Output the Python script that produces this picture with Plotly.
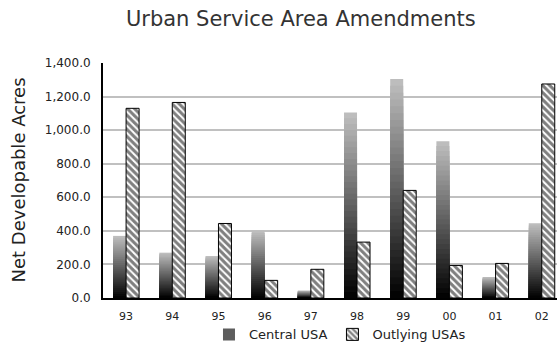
import plotly.graph_objects as go

years = ["93", "94", "95", "96", "97", "98", "99", "00", "01", "02"]
central = [370, 270, 250, 400, 44, 1105, 1305, 934, 125, 446]
outlying = [1130, 1165, 444, 105, 171, 333, 641, 194, 206, 1275]

N_SEG = 32  # layered bars approximating the vertical gradient of "Central USA"

fig = go.Figure()

# Draw from full height (lightest) down to shortest (darkest), each layer on top of the previous
for k in range(N_SEG, 0, -1):
    frac = (k - 0.5) / N_SEG
    g = int(round(192 * frac))
    color = f"rgb({g},{g},{g})"
    fig.add_trace(go.Bar(
        x=years,
        y=[v * k / N_SEG for v in central],
        offsetgroup="central",
        marker=dict(color=color, line=dict(width=0)),
        name="Central USA",
        legendgroup="central",
        showlegend=(k == N_SEG // 2),
        hoverinfo="skip",
    ))

fig.add_trace(go.Bar(
    x=years,
    y=outlying,
    offsetgroup="outlying",
    name="Outlying USAs",
    marker=dict(
        color="white",
        line=dict(color="black", width=1),
        pattern=dict(shape="\\", fgcolor="black", bgcolor="white", size=5, solidity=0.6),
    ),
))

font_family = "DejaVu Sans"

fig.update_layout(
    width=557, height=347,
    margin=dict(l=103, r=0, t=63, b=49, autoexpand=False),
    paper_bgcolor="white", plot_bgcolor="white",
    barmode="group", bargap=0.437, bargroupgap=0,
    font=dict(family=font_family, color="#222222"),
    title=dict(text="Urban Service Area Amendments", font=dict(size=21, family=font_family, color="#333333"),
               x=0.54, xref="container", y=0.945, yref="container", xanchor="center", yanchor="middle"),
    showlegend=True,
    legend=dict(orientation="h", x=0.522, xanchor="center", y=-0.155, yanchor="middle",
                bgcolor="rgba(0,0,0,0)",
                font=dict(size=13, family=font_family), traceorder="normal",
                itemwidth=30, tracegroupgap=0),
    xaxis=dict(type="category", range=[-0.5, 9.33], showline=True, linecolor="black", linewidth=2,
               showgrid=False, ticks="", ticklabelstandoff=7, automargin=False,
               tickfont=dict(size=11, family=font_family)),
    yaxis=dict(range=[0, 1400], dtick=200, tickformat=",.1f", showline=True, linecolor="black",
               linewidth=2, showgrid=True, gridcolor="#c0c0c0", gridwidth=1.5, zeroline=False,
               ticks="", ticklabelstandoff=8, automargin=False, tickfont=dict(size=12, family=font_family)),
    annotations=[dict(text="Net Developable Acres", textangle=-90, xref="paper", yref="paper",
                      x=(18 - 103) / 454, y=0.5, xanchor="center", yanchor="middle", showarrow=False,
                      font=dict(size=18, family=font_family, color="#222222"))],
)

fig.write_html("out.html")
